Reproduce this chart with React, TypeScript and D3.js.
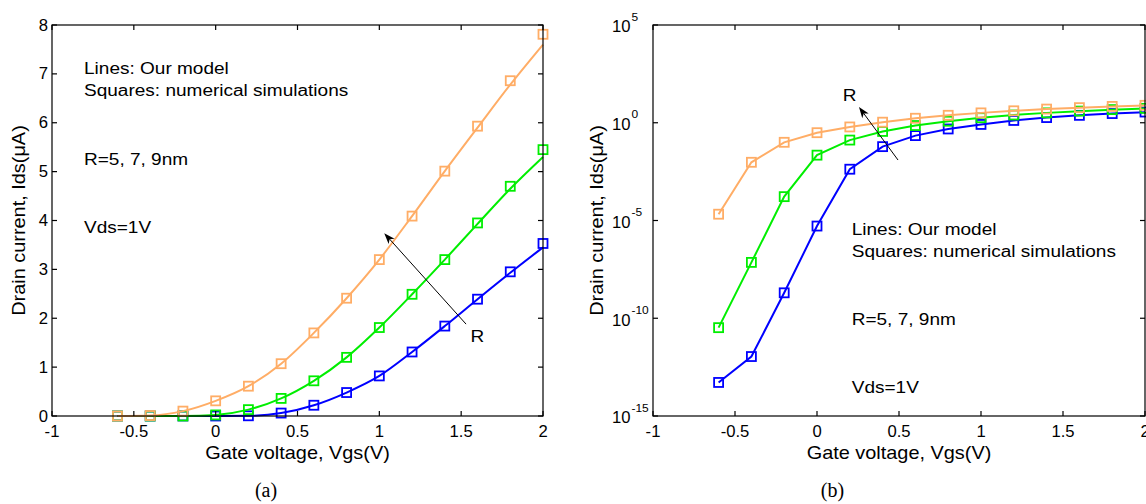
import React from 'react';
import * as d3 from 'd3';

// Gate voltage points (V)
const vgs = [-0.6, -0.4, -0.2, 0, 0.2, 0.4, 0.6, 0.8, 1.0, 1.2, 1.4, 1.6, 1.8, 2.0];

// Numerical simulations (squares), drain current in µA
const simR9 = [2.1e-5, 9.5e-3, 0.1, 0.31, 0.61, 1.07, 1.70, 2.41, 3.20, 4.09, 5.01, 5.93, 6.86, 7.81];
const simR7 = [3.3e-11, 7.2e-8, 1.66e-4, 0.022, 0.13, 0.36, 0.72, 1.20, 1.81, 2.49, 3.20, 3.95, 4.70, 5.45];
const simR5 = [5.2e-14, 1.1e-12, 2.0e-9, 5.2e-6, 4.2e-3, 0.06, 0.22, 0.48, 0.82, 1.31, 1.84, 2.39, 2.95, 3.53];

// Our model (lines), drain current in µA
const modelR9 = [2.1e-5, 9.5e-3, 0.1, 0.31, 0.61, 1.07, 1.70, 2.41, 3.20, 4.09, 5.01, 5.90, 6.78, 7.60];
const modelR7 = [3.3e-11, 7.2e-8, 1.66e-4, 0.022, 0.13, 0.36, 0.72, 1.20, 1.81, 2.49, 3.20, 3.93, 4.65, 5.30];
const modelR5 = [5.2e-14, 1.1e-12, 2.0e-9, 5.2e-6, 4.2e-3, 0.06, 0.22, 0.48, 0.82, 1.31, 1.84, 2.39, 2.93, 3.45];

const xTicks = [-1, -0.5, 0, 0.5, 1, 1.5, 2];
const xTickLabels = ['-1', '-0.5', '0', '0.5', '1', '1.5', '2'];
const yTicksLin = [0, 1, 2, 3, 4, 5, 6, 7, 8];
const yTicksLog = [1e-15, 1e-10, 1e-5, 1e0, 1e5];
const yTickExp = ['-15', '-10', '-5', '0', '5'];

const annotations = ['Lines: Our model', 'Squares: numerical simulations', 'R=5, 7, 9nm', 'Vds=1V'];

// annotation arrows (data coordinates: [Vgs, Ids])
const arrowLin = { from: [1.53, 1.88], to: [1.03, 3.74] };
const arrowLog = { from: [0.494, 0.0124], to: [0.256, 6.4] };

const series = [
  { name: 'R=5nm', sim: simR5, model: modelR5, color: '#0000ff' },
  { name: 'R=7nm', sim: simR7, model: modelR7, color: '#00ee00' },
  { name: 'R=9nm', sim: simR9, model: modelR9, color: '#ffad66' },
];

const FONT = '"Liberation Sans", Arial, Helvetica, sans-serif';
const SERIF = '"Liberation Serif", "Times New Roman", serif';

function Txt({ x, y, size, sx = 1, anchor = 'start', rotate = 0, family = FONT, children }: any) {
  return (
    <text
      transform={`translate(${x},${y}) rotate(${rotate}) scale(${sx},1)`}
      fontSize={size}
      fontFamily={family}
      textAnchor={anchor}
      fill="#000"
    >
      {children}
    </text>
  );
}

function Arrow({ x1, y1, x2, y2 }: any) {
  const dx = x2 - x1, dy = y2 - y1;
  const len = Math.hypot(dx, dy);
  const ux = dx / len, uy = dy / len;
  const px = -uy, py = ux;
  const hl = 11, hw = 4, back = 8;
  const bx = x2 - ux * hl, by = y2 - uy * hl;
  const nx = x2 - ux * back, ny = y2 - uy * back;
  const pts = [
    [x2, y2],
    [bx + px * hw, by + py * hw],
    [nx, ny],
    [bx - px * hw, by - py * hw],
  ];
  return (
    <g>
      <line x1={x1} y1={y1} x2={nx} y2={ny} stroke="#000" strokeWidth={1} />
      <polygon points={pts.map((p) => p.join(',')).join(' ')} fill="#000" />
    </g>
  );
}

function Frame({ x0, x1, y0, y1, yTicksPx }: any) {
  const tl = 5;
  return (
    <g stroke="#000" strokeWidth={1.2} fill="none">
      <rect x={x0} y={y0} width={x1 - x0} height={y1 - y0} />
      {yTicksPx.map((y: number, i: number) => (
        <g key={'y' + i}>
          <line x1={x0} x2={x0 + tl} y1={y} y2={y} />
          <line x1={x1} x2={x1 - tl} y1={y} y2={y} />
        </g>
      ))}
    </g>
  );
}

function XAxis({ xs, y0, y1 }: any) {
  const tl = 5;
  return (
    <g>
      <g stroke="#000" strokeWidth={1.2}>
        {xTicks.map((t, i) => (
          <g key={i}>
            <line x1={xs(t)} x2={xs(t)} y1={y1} y2={y1 - tl} />
            <line x1={xs(t)} x2={xs(t)} y1={y0} y2={y0 + tl} />
          </g>
        ))}
      </g>
      {xTicks.map((t, i) => (
        <Txt key={i} x={xs(t)} y={437} size={16} sx={1.04} anchor="middle">
          {xTickLabels[i]}
        </Txt>
      ))}
    </g>
  );
}

function Series({ xs, ys, curve }: any) {
  const line = d3
    .line<number>()
    .x((_, i) => xs(vgs[i]))
    .y((d) => ys(d))
    .curve(curve);
  return (
    <g>
      {series.map((s) => (
        <g key={s.name}>
          <path d={line(s.model) || ''} fill="none" stroke={s.color} strokeWidth={2} />
          {s.sim.map((v, i) => (
            <rect
              key={i}
              x={xs(vgs[i]) - 4.5}
              y={ys(v) - 4.5}
              width={9}
              height={9}
              fill="none"
              stroke={s.color}
              strokeWidth={1.8}
            />
          ))}
        </g>
      ))}
    </g>
  );
}

export default function App() {
  const top = 25, bottom = 416;
  const L = { x0: 52, x1: 543 };
  const R = { x0: 653, x1: 1145 };

  const xsL = d3.scaleLinear().domain([-1, 2]).range([L.x0, L.x1]);
  const ysL = d3.scaleLinear().domain([0, 8]).range([bottom, top]);
  const xsR = d3.scaleLinear().domain([-1, 2]).range([R.x0, R.x1]);
  const ysR = d3.scaleLog().domain([1e-15, 1e5]).range([bottom, top]);

  const annSize = 17.3, annSx = 1.1;
  const annYL = [74, 96, 165, 233];
  const annYR = [235, 257, 325, 392.7];

  return (
    <svg
      width={1146}
      height={504}
      style={{ position: 'absolute', left: 0, top: 0, background: '#fff' }}
      xmlns="http://www.w3.org/2000/svg"
    >
      <rect x={0} y={0} width={1146} height={504} fill="#fff" />

      {/* ---------- (a) linear plot ---------- */}
      <Series xs={xsL} ys={ysL} curve={d3.curveMonotoneX} />
      <Frame x0={L.x0} x1={L.x1} y0={top} y1={bottom} yTicksPx={yTicksLin.map((t) => ysL(t))} />
      <XAxis xs={xsL} y0={top} y1={bottom} />
      {yTicksLin.map((t) => (
        <Txt key={t} x={48} y={ysL(t) + 5.6} size={16} sx={1.04} anchor="end">
          {String(t)}
        </Txt>
      ))}
      <Txt x={25} y={(top + bottom) / 2} size={18.6} sx={1.07} anchor="middle" rotate={-90}>
        Drain current, Ids(μA)
      </Txt>
      <Txt x={(L.x0 + L.x1) / 2} y={459} size={18.6} sx={1.07} anchor="middle">
        Gate voltage, Vgs(V)
      </Txt>
      {annotations.map((a, i) => (
        <Txt key={i} x={84} y={annYL[i]} size={annSize} sx={annSx}>
          {a}
        </Txt>
      ))}
      <Arrow
        x1={xsL(arrowLin.from[0])}
        y1={ysL(arrowLin.from[1])}
        x2={xsL(arrowLin.to[0])}
        y2={ysL(arrowLin.to[1])}
      />
      <Txt x={470.5} y={342} size={annSize} sx={annSx}>
        R
      </Txt>
      <Txt x={266} y={497} size={20} family={SERIF} anchor="middle">
        (a)
      </Txt>

      {/* ---------- (b) log plot ---------- */}
      <Series xs={xsR} ys={ysR} curve={d3.curveLinear} />
      <Frame x0={R.x0} x1={R.x1} y0={top} y1={bottom} yTicksPx={yTicksLog.map((t) => ysR(t))} />
      <XAxis xs={xsR} y0={top} y1={bottom} />
      {yTicksLog.map((t, i) => (
        <g key={i}>
          <Txt x={630.5} y={ysR(t) + 7.3} size={16} sx={1.04} anchor="end">
            10
          </Txt>
          <Txt x={631.5} y={ysR(t) - 4.4} size={11.5} sx={1.04}>
            {yTickExp[i]}
          </Txt>
        </g>
      ))}
      <Txt x={603} y={(top + bottom) / 2} size={18.6} sx={1.07} anchor="middle" rotate={-90}>
        Drain current, Ids(μA)
      </Txt>
      <Txt x={(R.x0 + R.x1) / 2} y={459} size={18.6} sx={1.07} anchor="middle">
        Gate voltage, Vgs(V)
      </Txt>
      {annotations.map((a, i) => (
        <Txt key={i} x={851.7} y={annYR[i]} size={annSize} sx={annSx}>
          {a}
        </Txt>
      ))}
      <Arrow
        x1={xsR(arrowLog.from[0])}
        y1={ysR(arrowLog.from[1])}
        x2={xsR(arrowLog.to[0])}
        y2={ysR(arrowLog.to[1])}
      />
      <Txt x={842.7} y={100.7} size={annSize} sx={annSx}>
        R
      </Txt>
      <Txt x={832.5} y={497} size={20} family={SERIF} anchor="middle">
        (b)
      </Txt>
    </svg>
  );
}
